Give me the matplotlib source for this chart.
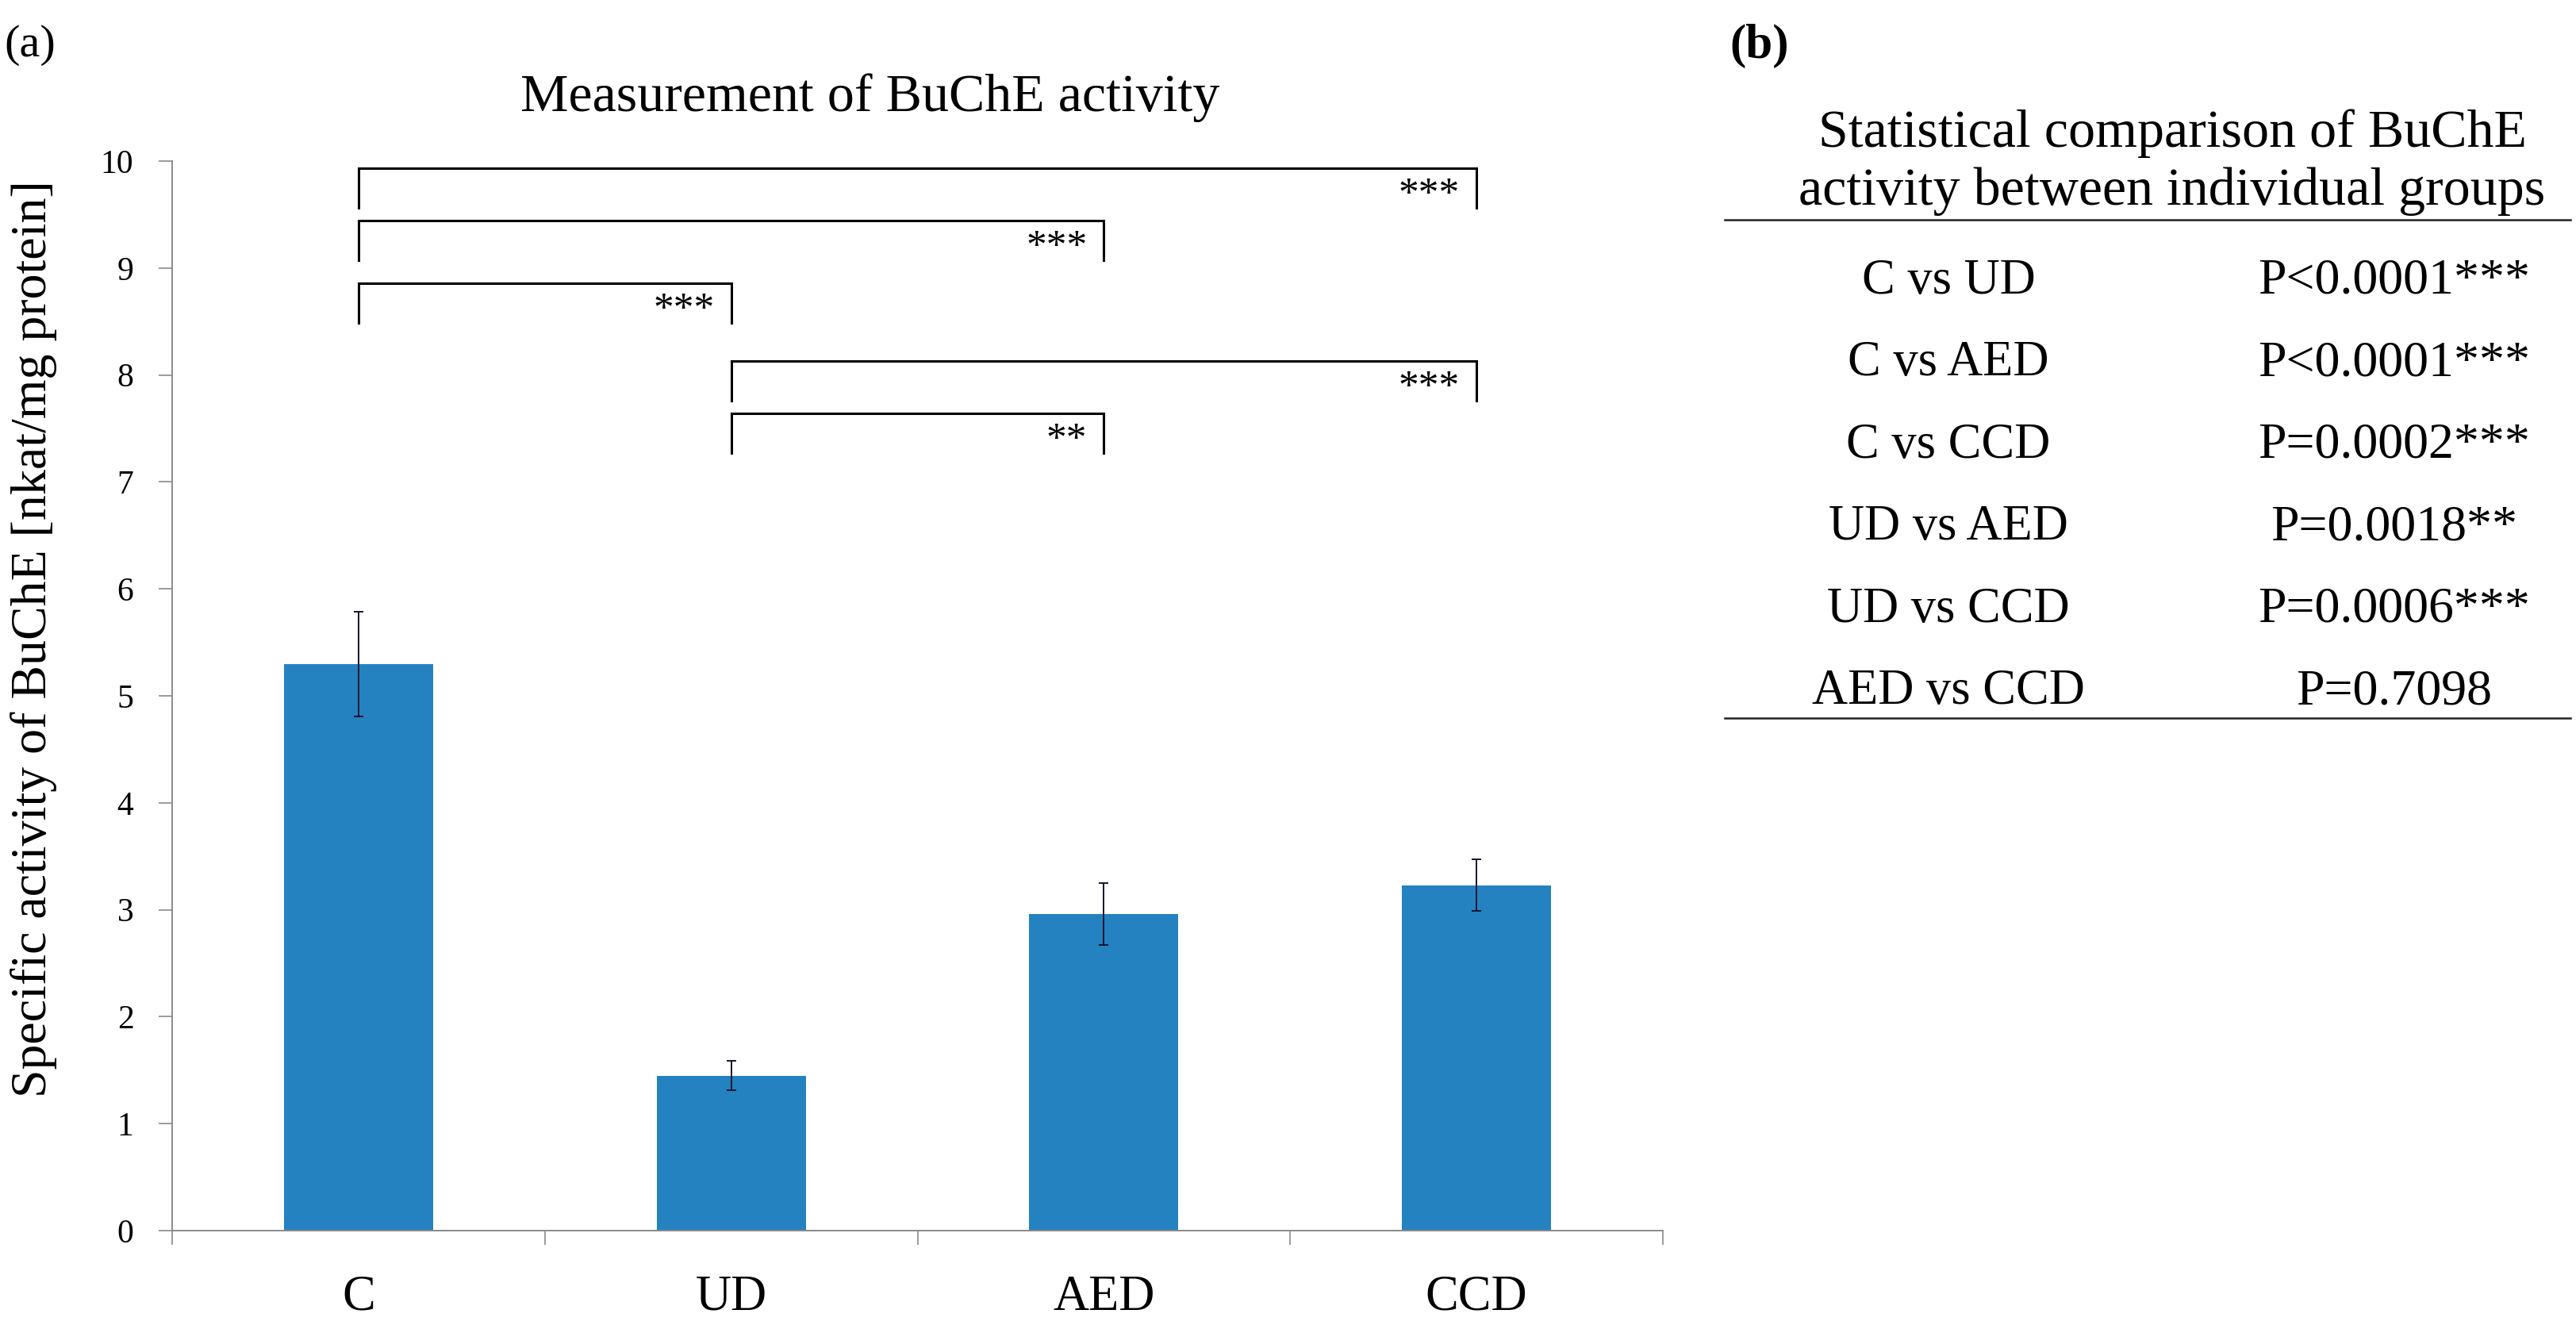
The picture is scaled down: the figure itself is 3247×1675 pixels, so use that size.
import matplotlib
matplotlib.use('Agg')
import matplotlib.pyplot as plt
from matplotlib.lines import Line2D

# ---------------- data ----------------
categories = ['C', 'UD', 'AED', 'CCD']
means = [5.30, 1.45, 2.96, 3.23]
errors = [0.49, 0.14, 0.29, 0.24]
yticks = [0, 1, 2, 3, 4, 5, 6, 7, 8, 9, 10]

comp_pairs = [(0, 3), (0, 2), (0, 1), (1, 3), (1, 2)]
comp_heights = [9.93, 9.44, 8.86, 8.13, 7.64]
comp_stars = ['***', '***', '***', '***', '**']

chart_title = 'Measurement of BuChE activity'
y_label = 'Specific activity of BuChE [nkat/mg protein]'
table_title = ['Statistical comparison of BuChE', 'activity between individual groups']
table_groups = ['C vs UD', 'C vs AED', 'C vs CCD', 'UD vs AED', 'UD vs CCD', 'AED vs CCD']
table_pvalues = ['P<0.0001***', 'P<0.0001***', 'P=0.0002***', 'P=0.0018**', 'P=0.0006***', 'P=0.7098']

# ---------------- style ----------------
W, H, DPI = 3247, 1675, 100
SERIF = ['Liberation Serif', 'DejaVu Serif']
plt.rcParams['font.family'] = SERIF
BAR_COLOR = '#2482C1'
SPINE_COLOR = '#8a8a8a'


def fx(px):
    return px / W


def fy(py):
    return 1 - py / H


fig = plt.figure(figsize=(W / DPI, H / DPI), dpi=DPI)
fig.patch.set_facecolor('white')

ax = fig.add_axes([fx(217), fy(1551), (2096 - 217) / W, (1551 - 203) / H])
x = list(range(len(categories)))
ax.bar(x, means, width=0.40, color=BAR_COLOR, zorder=2)
ax.errorbar(x, means, yerr=errors, fmt='none', ecolor='#15152e',
            elinewidth=1.4, capsize=4, capthick=1.4, zorder=3)

ax.set_xlim(-0.5, len(categories) - 0.5)
ax.set_ylim(0, 10)
ax.set_yticks(yticks)
ax.set_yticklabels([str(t) for t in yticks], fontsize=30)
ax.tick_params(axis='y', direction='out', length=12, width=1.2,
               color=SPINE_COLOR, pad=23)

# category boundary ticks (major) and centred labels (minor)
bounds = [i - 0.5 for i in range(len(categories) + 1)]
ax.set_xticks(bounds)
ax.set_xticklabels([''] * len(bounds))
ax.tick_params(axis='x', which='major', direction='out', length=13,
               width=1.2, color=SPINE_COLOR)
ax.set_xticks(x, minor=True)
ax.set_xticklabels(categories, minor=True, fontsize=45)
ax.tick_params(axis='x', which='minor', length=0, pad=40)

for s in ['top', 'right']:
    ax.spines[s].set_visible(False)
for s in ['left', 'bottom']:
    ax.spines[s].set_color(SPINE_COLOR)
    ax.spines[s].set_linewidth(1.4)

ax.set_ylabel(y_label, fontsize=46)
ax.yaxis.set_label_coords(fx(72), fy(805), transform=fig.transFigure)

# significance brackets
leg = 0.37
for (a, b), h, st in zip(comp_pairs, comp_heights, comp_stars):
    ax.plot([a, a, b, b], [h - leg, h, h, h - leg], color='black',
            lw=2.2, solid_joinstyle='miter', clip_on=False, zorder=4)
    ax.text(b - 0.045, h - 0.34, st, ha='right', va='baseline',
            fontsize=37, zorder=4)

# titles / panel labels
fig.text(fx(1097), fy(140), chart_title, ha='center', va='baseline', fontsize=49)
fig.text(fx(5), fy(57), '(a)', ha='left', va='center', fontsize=42)
fig.text(fx(2180), fy(58), '(b)', ha='left', va='center', fontsize=44,
         fontweight='bold')

# table (b)
tcx = fx(2738)
fig.text(tcx, fy(185), table_title[0], ha='center', va='baseline', fontsize=49)
fig.text(tcx, fy(258), table_title[1], ha='center', va='baseline', fontsize=49)
fig.add_artist(Line2D([fx(2174), fx(3240)], [fy(277), fy(277)],
                      color='#222222', lw=1.8, transform=fig.transFigure))
row_base = 370
row_step = 103.4
for i, (g, p) in enumerate(zip(table_groups, table_pvalues)):
    yb = fy(row_base + i * row_step)
    fig.text(fx(2456), yb, g, ha='center', va='baseline', fontsize=45)
    fig.text(fx(3018), yb, p, ha='center', va='baseline', fontsize=46)
fig.add_artist(Line2D([fx(2174), fx(3240)], [fy(905), fy(905)],
                      color='#222222', lw=1.8, transform=fig.transFigure))

fig.savefig('out.png', dpi=DPI, facecolor='white')
